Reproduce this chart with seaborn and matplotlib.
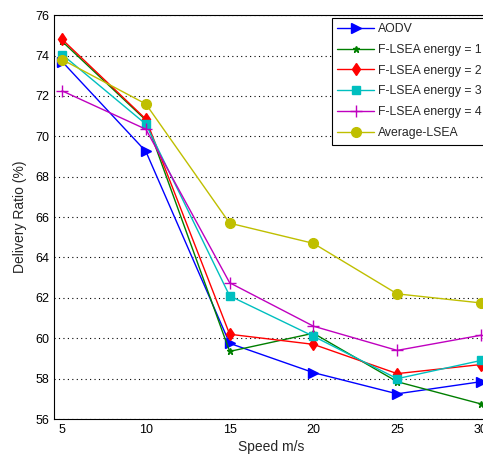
import matplotlib
matplotlib.use("Agg")
import matplotlib.pyplot as plt
import seaborn as sns
import pandas as pd

speeds = [5, 10, 15, 20, 25, 30]
aodv = [73.7, 69.25, 59.75, 58.3, 57.25, 57.85]
flsea1 = [74.7, 70.8, 59.35, 60.25, 57.85, 56.75]
flsea2 = [74.8, 70.85, 60.2, 59.7, 58.25, 58.7]
flsea3 = [74.05, 70.6, 62.1, 60.1, 58.0, 58.9]
flsea4 = [72.25, 70.35, 62.75, 60.6, 59.4, 60.15]
avg_lsea = [73.8, 71.6, 65.7, 64.7, 62.2, 61.75]
series_names = ["AODV", "F-LSEA energy = 1", "F-LSEA energy = 2",
                "F-LSEA energy = 3", "F-LSEA energy = 4", "Average-LSEA"]
yticks = [56, 58, 60, 62, 64, 66, 68, 70, 72, 74, 76]
xticks = [5, 10, 15, 20, 25, 30]

sns.set_style("white")
plt.rcParams['font.family'] = ['Liberation Sans', 'DejaVu Sans']

rows = []
for name, vals in zip(series_names, [aodv, flsea1, flsea2, flsea3, flsea4, avg_lsea]):
    for s, v in zip(speeds, vals):
        rows.append({"Speed": s, "Ratio": v, "Series": name})
df = pd.DataFrame(rows)

colors = ["#0000ff", "#007f00", "#ff0000", "#00bfbf", "#bf00bf", "#bfbf00"]
markers = [">", "*", "d", "s", "+", "o"]
msizes = [7, 5, 6, 6, 8, 7]

fig = plt.figure(figsize=(4.83, 4.59), dpi=100)
ax = fig.add_axes([0.112, 0.087, 0.901, 0.880])

for name, c, m, ms in zip(series_names, colors, markers, msizes):
    sns.lineplot(data=df[df["Series"] == name], x="Speed", y="Ratio", ax=ax,
                 color=c, marker=m, markersize=ms, markeredgecolor=c,
                 markerfacecolor=c, linewidth=1.0, label=name, markeredgewidth=1.0)

ax.set_xlim(4.52, 30.5)
ax.set_ylim(56, 76)
ax.set_xticks(xticks)
ax.set_yticks(yticks)
ax.yaxis.grid(True, linestyle=(0, (1, 3)), color="black", linewidth=0.8)
ax.xaxis.grid(False)
ax.tick_params(direction="in", length=4, labelsize=9, colors="black", width=0.8)
for sp in ax.spines.values():
    sp.set_color("black")
    sp.set_linewidth(0.8)
ax.set_xlabel("Speed m/s", fontsize=10, labelpad=3)
ax.set_ylabel("Delivery Ratio (%)", fontsize=10, labelpad=6)

leg = ax.legend(loc="upper right", fontsize=8.8, frameon=True, fancybox=False,
                edgecolor="black", framealpha=1, borderaxespad=0.2,
                handlelength=3.0, handletextpad=0.3, labelspacing=0.72, borderpad=0.45)
leg.get_frame().set_linewidth(0.8)

fig.savefig("out.png", dpi=100)
